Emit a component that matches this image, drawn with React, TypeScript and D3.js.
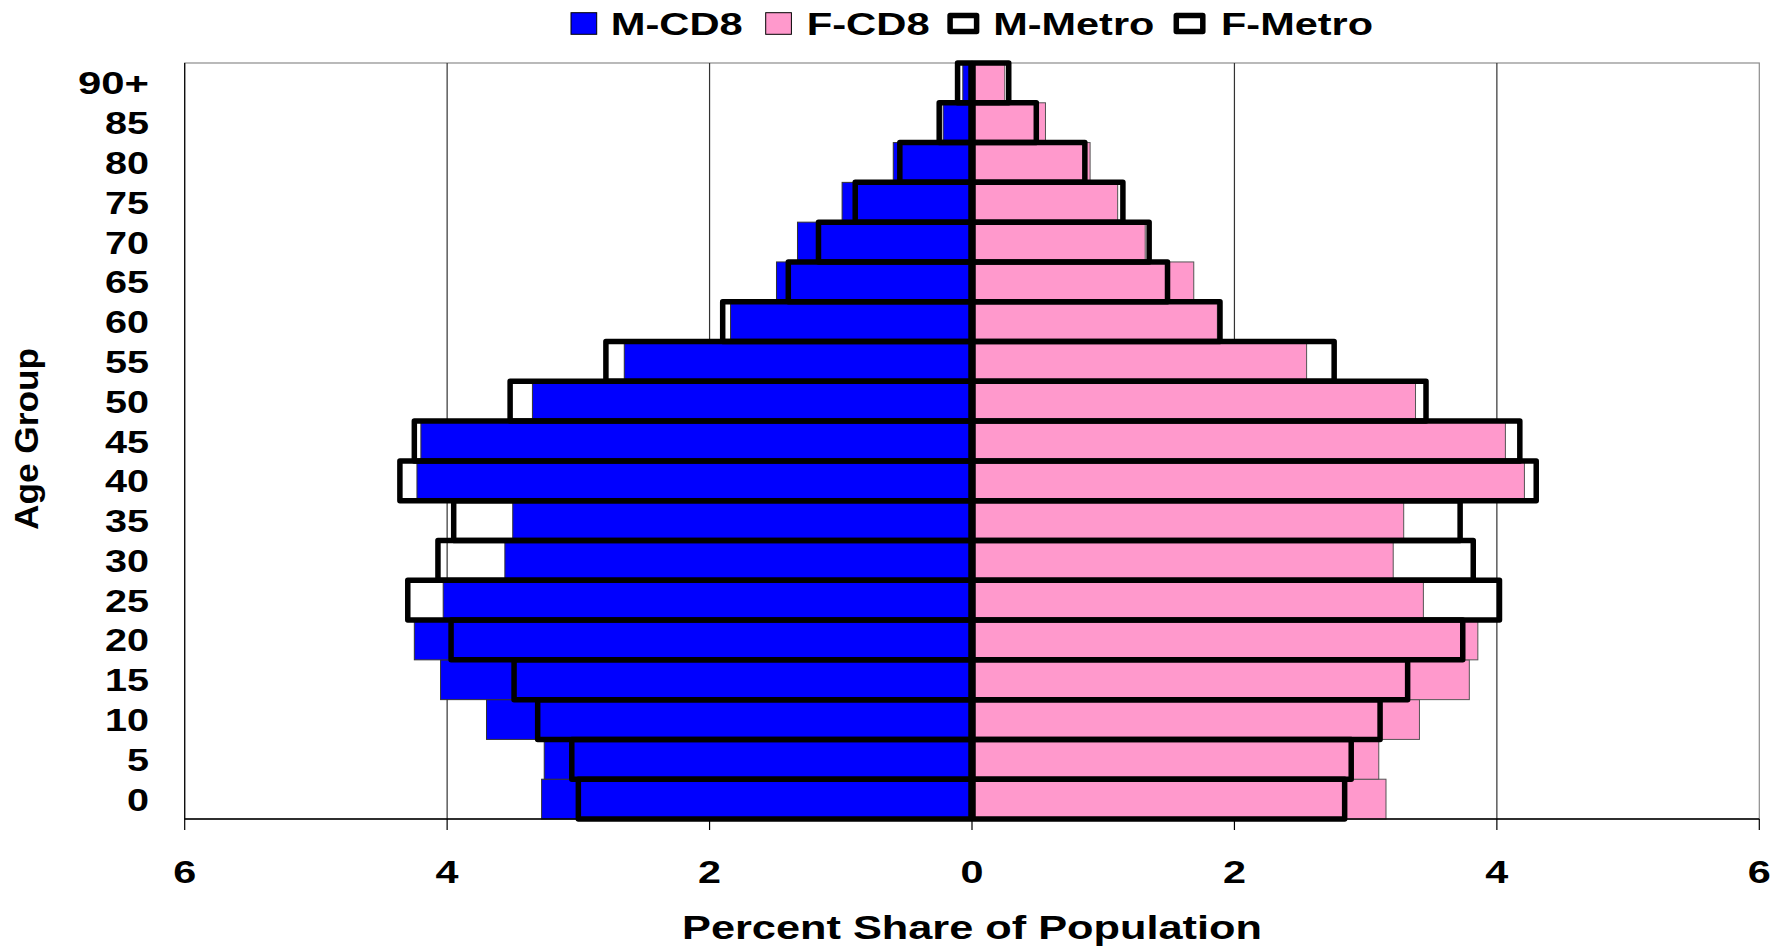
import * as d3 from "d3";

// age groups, bottom to top
const AGES = ["0", "5", "10", "15", "20", "25", "30", "35", "40", "45", "50", "55", "60", "65", "70", "75", "80", "85", "90+"];

// percent share of population (male values drawn to the left)
const M_CD8 = [3.28, 3.26, 3.7, 4.05, 4.25, 4.03, 3.56, 3.5, 4.23, 4.2, 3.35, 2.65, 1.84, 1.49, 1.33, 0.99, 0.6, 0.22, 0.07];
const F_CD8 = [3.155, 3.1, 3.41, 3.79, 3.855, 3.44, 3.21, 3.29, 4.21, 4.065, 3.38, 2.55, 1.87, 1.69, 1.32, 1.11, 0.9, 0.56, 0.25];
const M_METRO = [3.0, 3.05, 3.31, 3.49, 3.97, 4.3, 4.07, 3.95, 4.36, 4.25, 3.52, 2.79, 1.9, 1.4, 1.17, 0.89, 0.55, 0.25, 0.11];
const F_METRO = [2.84, 2.89, 3.11, 3.32, 3.74, 4.02, 3.82, 3.72, 4.3, 4.175, 3.46, 2.76, 1.89, 1.49, 1.35, 1.15, 0.86, 0.49, 0.28];

const X_TICKS = [-6, -4, -2, 0, 2, 4, 6];
const GRID = [-4, -2, 2, 4];

const LEGEND = [
  { label: "M-CD8", kind: "fill", color: "#0000ff", sq: 571, tx: 610.7, tw: 132 },
  { label: "F-CD8", kind: "fill", color: "#ff99cc", sq: 765.7, tx: 806.7, tw: 123 },
  { label: "M-Metro", kind: "outline", color: "#000", sq: 947.3, tx: 993.3, tw: 161 },
  { label: "F-Metro", kind: "outline", color: "#000", sq: 1173.5, tx: 1221, tw: 152 },
];

const W = 1788;
const H = 951;
const PLOT = { left: 184.7, right: 1759.3, top: 63, bottom: 819 };
const FONT = "'Liberation Sans', Arial, Helvetica, sans-serif";

export default function App() {
  const x = d3.scaleLinear().domain([-6, 6]).range([PLOT.left, PLOT.right]);
  const y = d3
    .scaleBand<string>()
    .domain([...AGES].reverse())
    .range([PLOT.top, PLOT.bottom])
    .padding(0);
  const bw = y.bandwidth();
  const x0 = x(0);

  const tickWidth = (s: string) => (s === "90+" ? 71 : s.length * 22);

  return (
    <div style={{ position: "fixed", left: 0, top: 0 }}>
      <svg width={W} height={H} viewBox={`0 0 ${W} ${H}`} style={{ display: "block", background: "#fff" }}>
        {/* plot frame and gridlines */}
        <rect
          x={PLOT.left}
          y={PLOT.top}
          width={PLOT.right - PLOT.left}
          height={PLOT.bottom - PLOT.top}
          fill="#fff"
          stroke="#8c8c8c"
          strokeWidth={1.2}
        />
        {GRID.map((g) => (
          <line key={g} x1={x(g)} x2={x(g)} y1={PLOT.top} y2={PLOT.bottom} stroke="#333" strokeWidth={1.2} />
        ))}

        {/* CD8 bars */}
        {AGES.map((a, i) => (
          <g key={`cd8-${a}`}>
            <rect
              x={x(-M_CD8[i])}
              y={y(a)!}
              width={x0 - x(-M_CD8[i])}
              height={bw}
              fill="#0000ff"
              stroke="#333"
              strokeWidth={1}
            />
            <rect
              x={x0}
              y={y(a)!}
              width={x(F_CD8[i]) - x0}
              height={bw}
              fill="#ff99cc"
              stroke="#555"
              strokeWidth={1}
            />
          </g>
        ))}

        {/* Metro outlines */}
        {AGES.map((a, i) => (
          <g key={`metro-${a}`} fill="none" stroke="#000" strokeWidth={5.5} strokeLinejoin="round">
            <rect x={x(-M_METRO[i])} y={y(a)!} width={x0 - 1 - x(-M_METRO[i])} height={bw} />
            <rect x={x0 + 1} y={y(a)!} width={x(F_METRO[i]) - x0 - 1} height={bw} />
          </g>
        ))}

        {/* axes */}
        <line x1={PLOT.left} x2={PLOT.right} y1={PLOT.bottom} y2={PLOT.bottom} stroke="#000" strokeWidth={1.5} />
        <line x1={PLOT.left} x2={PLOT.left} y1={PLOT.top} y2={PLOT.bottom} stroke="#000" strokeWidth={1.2} />
        {X_TICKS.map((t) => (
          <g key={t}>
            <line x1={x(t)} x2={x(t)} y1={PLOT.bottom} y2={PLOT.bottom + 11} stroke="#000" strokeWidth={1.2} />
            <text
              x={x(t)}
              y={883}
              textAnchor="middle"
              fontFamily={FONT}
              fontWeight="bold"
              fontSize={32}
              textLength={23}
              lengthAdjust="spacingAndGlyphs"
            >
              {Math.abs(t)}
            </text>
          </g>
        ))}

        {/* y tick labels */}
        {AGES.map((a) => (
          <text
            key={`lab-${a}`}
            x={149}
            y={y(a)! + bw / 2 + 11.5}
            textAnchor="end"
            fontFamily={FONT}
            fontWeight="bold"
            fontSize={32}
            textLength={tickWidth(a)}
            lengthAdjust="spacingAndGlyphs"
          >
            {a}
          </text>
        ))}

        {/* axis titles */}
        <text
          x={972}
          y={938.5}
          textAnchor="middle"
          fontFamily={FONT}
          fontWeight="bold"
          fontSize={33}
          textLength={580}
          lengthAdjust="spacingAndGlyphs"
        >
          Percent Share of Population
        </text>
        <text
          transform="translate(38,439) rotate(-90)"
          textAnchor="middle"
          fontFamily={FONT}
          fontWeight="bold"
          fontSize={33}
          textLength={182}
          lengthAdjust="spacingAndGlyphs"
        >
          Age Group
        </text>

        {/* legend */}
        {LEGEND.map((l) => (
          <g key={l.label}>
            {l.kind === "fill" ? (
              <rect x={l.sq} y={12.7} width={25.7} height={21.6} fill={l.color} stroke="#000" strokeWidth={1} />
            ) : (
              <rect
                x={l.sq + 2.8}
                y={15.5}
                width={26.5}
                height={16}
                fill="#fff"
                stroke="#000"
                strokeWidth={5.5}
                strokeLinejoin="round"
              />
            )}
            <text
              x={l.tx}
              y={35}
              fontFamily={FONT}
              fontWeight="bold"
              fontSize={31}
              textLength={l.tw}
              lengthAdjust="spacingAndGlyphs"
            >
              {l.label}
            </text>
          </g>
        ))}
      </svg>
    </div>
  );
}
